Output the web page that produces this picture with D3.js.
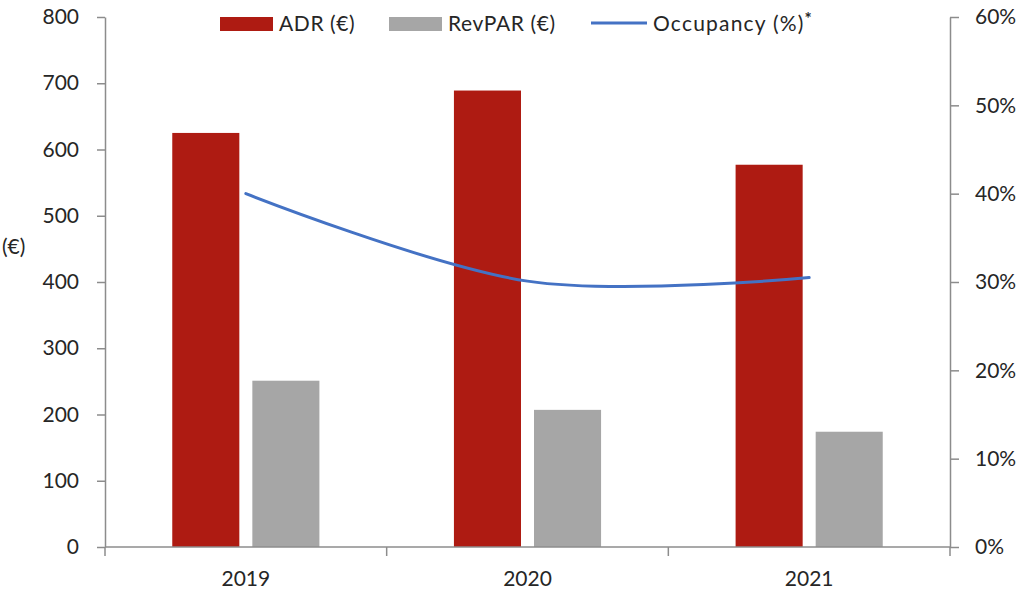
<!DOCTYPE html>
<html>
<head>
<meta charset="utf-8">
<script src="https://cdn.jsdelivr.net/npm/d3@7"></script>
<style>
  body { margin: 0; background: #fff; }
  text { font-family: Lato, "Open Sans", sans-serif; fill: #262626; }
</style>
</head>
<body>
<svg id="chart" width="1024" height="599"></svg>
<script>
// dados do gráfico
var years = ["2019", "2020", "2021"];
var adr = [625, 689, 577];
var revpar = [251, 207, 174];
var occupancy = [0.40, 0.301, 0.305];
var leftTicks = [0, 100, 200, 300, 400, 500, 600, 700, 800];
var rightTicks = [0, 0.1, 0.2, 0.3, 0.4, 0.5, 0.6];

var svg = d3.select("#chart");
var plotLeft = 105, plotRight = 950, plotTop = 17, plotBottom = 547;
var axisColor = "#8c8c8c";

// escalas
var x = d3.scaleBand().domain(years).range([plotLeft, plotRight]);
var xs = d3.scaleBand().domain(["ADR", "RevPAR"]).range([0, x.bandwidth()])
  .paddingInner(0.1625).paddingOuter(0.84);
var y = d3.scaleLinear().domain([0, 800]).range([plotBottom, plotTop]);
var y2 = d3.scaleLinear().domain([0, 0.6]).range([plotBottom, plotTop]);

// barras
var series = [
  { key: "ADR", values: adr, color: "#ae1b12" },
  { key: "RevPAR", values: revpar, color: "#a6a6a6" }
];
series.forEach(function (s) {
  svg.append("g").selectAll("rect")
    .data(years)
    .enter()
    .append("rect")
    .attr("x", function (d) { return x(d) + xs(s.key); })
    .attr("y", function (d, i) { return y(s.values[i]); })
    .attr("width", xs.bandwidth())
    .attr("height", function (d, i) { return plotBottom - y(s.values[i]); })
    .attr("fill", s.color);
});

// linha de ocupação suavizada
var line = d3.line()
  .x(function (d, i) { return x(years[i]) + x.bandwidth() / 2; })
  .y(function (d) { return y2(d); })
  .curve(d3.curveCatmullRom.alpha(0));
svg.append("path")
  .datum(occupancy)
  .attr("d", line)
  .attr("fill", "none")
  .attr("stroke", "#4472c4")
  .attr("stroke-width", 3)
  .attr("stroke-linecap", "round");

// eixo esquerdo
var gl = svg.append("g")
  .attr("transform", "translate(" + plotLeft + ",0)")
  .call(d3.axisLeft(y).tickValues(leftTicks).tickSize(8).tickPadding(18).tickSizeOuter(0));
// eixo direito
var gr = svg.append("g")
  .attr("transform", "translate(" + plotRight + ",0)")
  .call(d3.axisRight(y2).tickValues(rightTicks).tickSize(9).tickPadding(16).tickSizeOuter(0)
    .tickFormat(d3.format(".0%")));
// eixo inferior (rótulos)
var gb = svg.append("g")
  .attr("transform", "translate(0," + plotBottom + ")")
  .call(d3.axisBottom(x).tickSize(0).tickPadding(24).tickSizeOuter(0));
gb.select(".domain").attr("d", "M" + plotLeft + ",0H" + plotRight);
// marcas entre categorias
var bounds = years.map(function (d) { return x(d); }).concat([plotRight]);
gb.selectAll("line.sep")
  .data(bounds)
  .enter()
  .append("line")
  .attr("class", "sep")
  .attr("x1", function (d) { return d; })
  .attr("x2", function (d) { return d; })
  .attr("y1", 0)
  .attr("y2", 9);

[gl, gr, gb].forEach(function (g) {
  g.selectAll(".domain, line").attr("stroke", axisColor).attr("stroke-width", 1.5);
  g.selectAll("text").style("font-size", "21px").attr("fill", "#262626")
    .style("font-family", "Lato, 'Open Sans', sans-serif");
});

// título do eixo esquerdo
svg.append("text")
  .attr("x", 2).attr("y", 254)
  .style("font-size", "21px")
  .text("(€)");

// legenda
var lg = svg.append("g").style("font-size", "21px").style("letter-spacing", "0.6px");
lg.append("rect").attr("x", 220).attr("y", 17).attr("width", 53).attr("height", 14).attr("fill", "#ae1b12");
lg.append("text").attr("x", 279).attr("y", 31).text("ADR (€)");
lg.append("rect").attr("x", 389).attr("y", 17).attr("width", 53).attr("height", 14).attr("fill", "#a6a6a6");
lg.append("text").attr("x", 448).attr("y", 31).text("RevPAR (€)");
lg.append("line").attr("x1", 591).attr("x2", 647).attr("y1", 23).attr("y2", 23)
  .attr("stroke", "#4472c4").attr("stroke-width", 3);
var occ = lg.append("text").attr("x", 653).attr("y", 31).style("letter-spacing", "1.2px");
occ.append("tspan").text("Occupancy (%)");
occ.append("tspan").attr("dy", -6).style("font-size", "17px").style("font-weight", "bold").text("*");
</script>
</body>
</html>
